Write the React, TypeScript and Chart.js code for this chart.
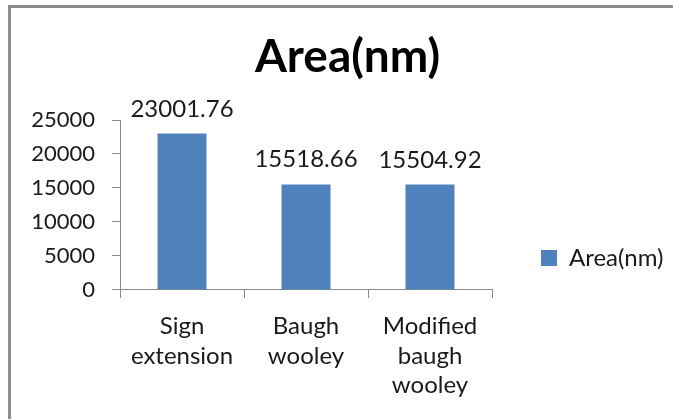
import { useEffect, useRef } from "react";
import { Chart, registerables } from "chart.js";

Chart.register(...registerables);

const categories: string[][] = [
  ["Sign", "extension"],
  ["Baugh", "wooley"],
  ["Modified", "baugh", "wooley"],
];
const seriesName = "Area(nm)";
const areaValues = [23001.76, 15518.66, 15504.92];
const yMin = 0;
const yMax = 25000;
const yStep = 5000;

const FONT = "Lato, 'Open Sans', sans-serif";
const TEXT = "#1a1a1a";
const AXIS = "#8a8a8a";
const BAR = "#4F81BD";

const valueLabels = {
  id: "valueLabels",
  afterDatasetsDraw(chart: any) {
    const ctx = chart.ctx;
    const meta = chart.getDatasetMeta(0);
    ctx.save();
    ctx.font = `24px ${FONT}`;
    ctx.fillStyle = TEXT;
    ctx.textAlign = "center";
    ctx.textBaseline = "alphabetic";
    meta.data.forEach((bar: any, i: number) => {
      ctx.fillText(areaValues[i].toFixed(2), bar.x, bar.y - 17);
    });
    ctx.restore();
  },
};

export default function App() {
  const ref = useRef<HTMLCanvasElement | null>(null);

  useEffect(() => {
    if (!ref.current) return;
    const chart = new Chart(ref.current, {
      type: "bar",
      data: {
        labels: categories,
        datasets: [
          {
            label: seriesName,
            data: areaValues,
            backgroundColor: BAR,
            borderWidth: 0,
            barPercentage: 0.395,
            categoryPercentage: 1,
          },
        ],
      },
      plugins: [valueLabels],
      options: {
        responsive: false,
        maintainAspectRatio: false,
        animation: false,
        layout: { padding: { left: 22, right: 0, top: 0, bottom: 4.5 } },
        plugins: {
          tooltip: { enabled: false },
          title: {
            display: true,
            text: "Area(nm)",
            color: "#000",
            font: { family: FONT, size: 46, weight: "bold", lineHeight: 1.2 },
            padding: { top: 29.5, bottom: 35.3 },
          },
          legend: {
            display: true,
            position: "right",
            maxWidth: 181,
            title: { display: true, text: " ", padding: { top: 43.5, bottom: 43.5 } },
            labels: {
              boxWidth: 16,
              boxHeight: 16,
              padding: 49,
              color: TEXT,
              font: { family: FONT, size: 24 },
            },
          },
        },
        scales: {
          x: {
            grid: {
              display: true,
              drawOnChartArea: false,
              drawTicks: true,
              tickLength: 8,
              color: AXIS,
              offset: true,
            },
            border: { display: true, color: AXIS, width: 1 },
            ticks: {
              color: TEXT,
              padding: 14,
              maxRotation: 0,
              autoSkip: false,
              font: { family: FONT, size: 24, lineHeight: 1.23 },
            },
          },
          y: {
            min: yMin,
            max: yMax,
            grid: {
              display: true,
              drawOnChartArea: false,
              drawTicks: true,
              tickLength: 8,
              color: AXIS,
            },
            border: { display: true, color: AXIS, width: 1 },
            ticks: {
              stepSize: yStep,
              color: TEXT,
              padding: 17,
              font: { family: FONT, size: 22 },
              callback: (v: any) => String(v),
            },
            afterFit(scale: any) {
              scale.width = 98;
            },
          },
        },
      },
    });
    return () => chart.destroy();
  }, []);

  return (
    <div
      style={{
        position: "fixed",
        left: 0,
        top: 0,
        width: 673,
        height: 419,
        background: "#fff",
        overflow: "hidden",
      }}
    >
      <canvas ref={ref} width={673} height={419} style={{ display: "block" }} />
      <div
        style={{
          position: "absolute",
          left: 8,
          top: 5,
          width: 700,
          height: 450,
          borderTop: "3px solid #8c8c8c",
          borderLeft: "3px solid #8c8c8c",
          pointerEvents: "none",
        }}
      />
    </div>
  );
}
